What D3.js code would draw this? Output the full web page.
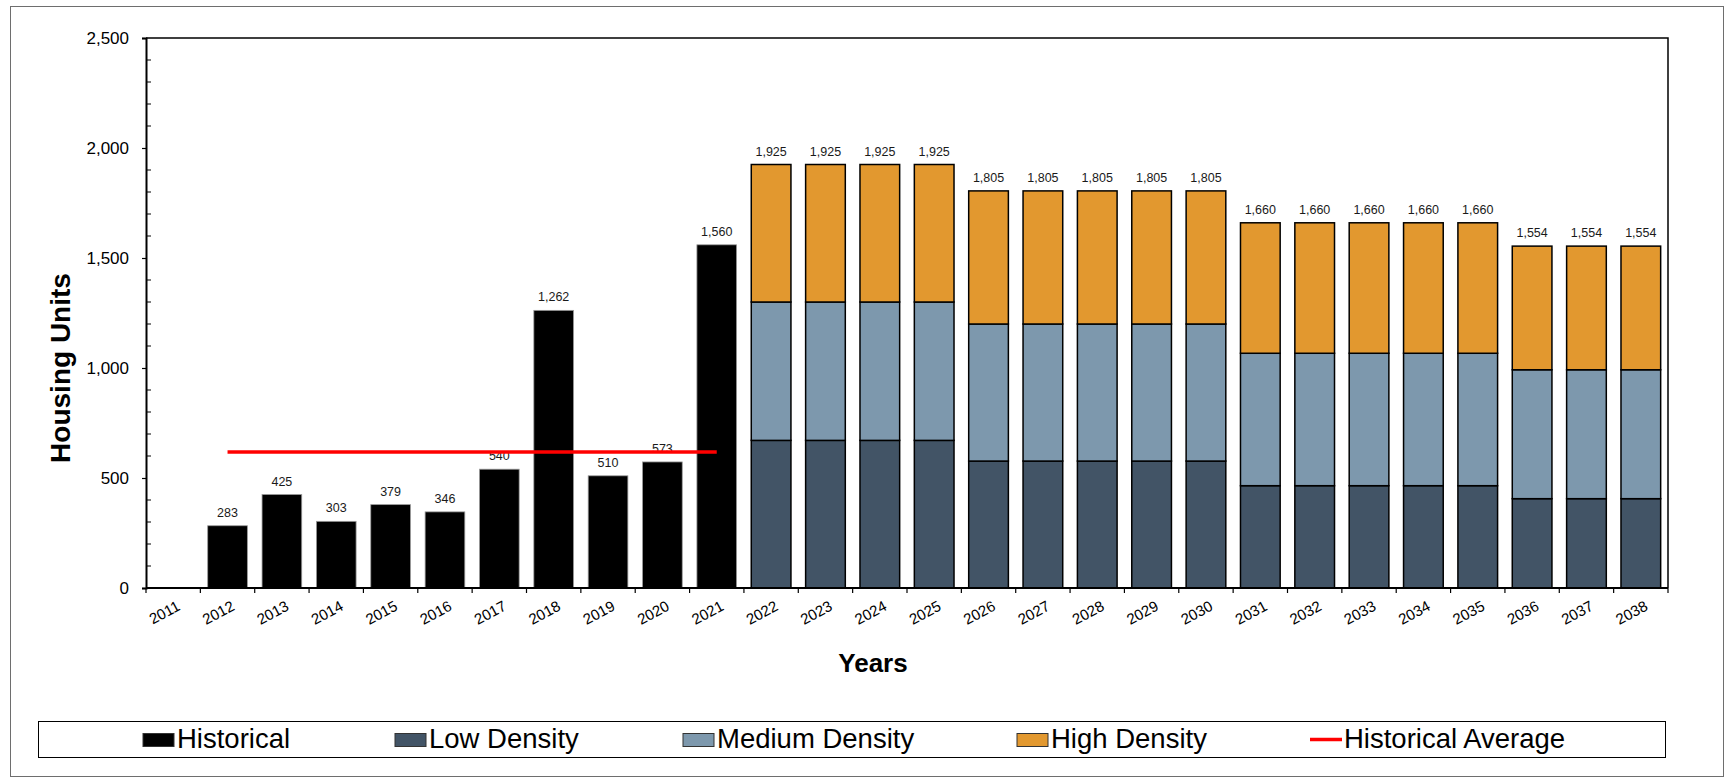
<!DOCTYPE html>
<html>
<head>
<meta charset="utf-8">
<script src="https://cdn.jsdelivr.net/npm/d3@7"></script>
<style>
  html, body { margin: 0; padding: 0; background: #fff; }
  svg { display: block; font-family: Arial, "Liberation Sans", sans-serif; }
</style>
</head>
<body>
<svg id="chart" width="1725" height="781"></svg>
<script>
// Category axis: every year shown on the chart
const years = ["2011","2012","2013","2014","2015","2016","2017","2018","2019","2020",
               "2021","2022","2023","2024","2025","2026","2027","2028","2029","2030",
               "2031","2032","2033","2034","2035","2036","2037","2038"];

// Historical completions
const historicalYears  = ["2012","2013","2014","2015","2016","2017","2018","2019","2020","2021"];
const historicalValues = [283, 425, 303, 379, 346, 540, 1262, 510, 573, 1560];

// Average of the historical period
const historicalAverage = [618];

// Projected units by density
const projectionYears = ["2022","2023","2024","2025","2026","2027","2028","2029","2030",
                         "2031","2032","2033","2034","2035","2036","2037","2038"];
const lowDensity    = [671, 671, 671, 671, 577, 577, 577, 577, 577, 465, 465, 465, 465, 465, 406, 406, 406];
const mediumDensity = [629, 629, 629, 629, 623, 623, 623, 623, 623, 602, 602, 602, 602, 602, 586, 586, 586];
const highDensity   = [625, 625, 625, 625, 605, 605, 605, 605, 605, 593, 593, 593, 593, 593, 562, 562, 562];

// Value axis
const yMajorTicks = [0, 500, 1000, 1500, 2000, 2500];
const yMinorStep = 100;

const seriesNames  = ["Low Density", "Medium Density", "High Density"];
const seriesColors = ["#425466", "#7d98ad", "#e2982f"];

const svg = d3.select("#chart");
const plot = { left: 146, right: 1668, top: 38, bottom: 588 };

const x = d3.scaleBand()
  .domain(years)
  .range([plot.left, plot.right])
  .paddingInner(0.27)
  .paddingOuter(0.135);

const y = d3.scaleLinear()
  .domain([0, 2500])
  .range([plot.bottom, plot.top]);

const fmt = d3.format(",");

// Outer frame
svg.append("rect")
  .attr("x", 10.5).attr("y", 6.5)
  .attr("width", 1713).attr("height", 770)
  .attr("fill", "none").attr("stroke", "#6e6e6e").attr("stroke-width", 1);

// Plot frame (top and right edges)
svg.append("path")
  .attr("d", `M${plot.left},${plot.top}H${plot.right}V${plot.bottom}`)
  .attr("fill", "none").attr("stroke", "#000").attr("stroke-width", 1.5);

// Historical bars
const hist = historicalYears.map((yr, i) => ({ year: yr, value: historicalValues[i] }));
svg.append("g").selectAll("rect")
  .data(hist)
  .join("rect")
  .attr("x", d => x(d.year))
  .attr("y", d => y(d.value))
  .attr("width", x.bandwidth())
  .attr("height", d => y(0) - y(d.value))
  .attr("fill", "#000")
  .attr("stroke", "#9a9a9a")
  .attr("stroke-width", 0.8);

// Projected stacked bars
const projRows = projectionYears.map((yr, i) => ({
  year: yr,
  "Low Density": lowDensity[i],
  "Medium Density": mediumDensity[i],
  "High Density": highDensity[i]
}));
const stacked = d3.stack().keys(seriesNames)(projRows);

svg.append("g").selectAll("g")
  .data(stacked)
  .join("g")
  .attr("fill", (d, i) => seriesColors[i])
  .selectAll("rect")
  .data(d => d)
  .join("rect")
  .attr("x", d => x(d.data.year))
  .attr("y", d => y(d[1]))
  .attr("width", x.bandwidth())
  .attr("height", d => y(d[0]) - y(d[1]))
  .attr("stroke", "#000")
  .attr("stroke-width", 1.5);

// Value labels
const labelData = hist.map(d => ({ year: d.year, value: d.value }))
  .concat(stacked[stacked.length - 1].map(d => ({ year: d.data.year, value: d[1] })));
svg.append("g").selectAll("text")
  .data(labelData)
  .join("text")
  .attr("x", d => x(d.year) + x.bandwidth() / 2)
  .attr("y", d => y(d.value) - 9)
  .attr("text-anchor", "middle")
  .attr("font-size", 12.5)
  .attr("fill", "#1a1a1a")
  .text(d => fmt(d.value));

// Historical average line from first to last historical year
const avgX0 = x(historicalYears[0]) + x.bandwidth() / 2;
const avgX1 = x(historicalYears[historicalYears.length - 1]) + x.bandwidth() / 2;
svg.append("line")
  .attr("x1", avgX0).attr("x2", avgX1)
  .attr("y1", y(historicalAverage[0])).attr("y2", y(historicalAverage[0]))
  .attr("stroke", "#ff0000").attr("stroke-width", 3.5);

// Y axis with major ticks outside and minor ticks inside
const yAxis = svg.append("g")
  .attr("transform", `translate(${plot.left},0)`)
  .call(d3.axisLeft(y).tickValues(yMajorTicks).tickSize(4).tickPadding(13).tickFormat(fmt));
yAxis.select(".domain").attr("stroke", "#000").attr("stroke-width", 2);
yAxis.selectAll(".tick line").attr("stroke", "#000").attr("stroke-width", 1.2);
yAxis.selectAll(".tick text").attr("font-size", 17).attr("fill", "#000")
  .attr("font-family", "Arial, 'Liberation Sans', sans-serif");

const minorTicks = d3.range(0, 2500 + 1, yMinorStep).filter(v => !yMajorTicks.includes(v));
svg.append("g").selectAll("line")
  .data(minorTicks)
  .join("line")
  .attr("x1", plot.left).attr("x2", plot.left + 5)
  .attr("y1", d => y(d)).attr("y2", d => y(d))
  .attr("stroke", "#000").attr("stroke-width", 1);

// X axis: baseline, boundary ticks and slanted year labels
svg.append("line")
  .attr("x1", plot.left).attr("x2", plot.right)
  .attr("y1", plot.bottom).attr("y2", plot.bottom)
  .attr("stroke", "#000").attr("stroke-width", 2);

const boundaries = d3.range(years.length + 1).map(i => plot.left + i * x.step());
svg.append("g").selectAll("line")
  .data(boundaries)
  .join("line")
  .attr("x1", d => d).attr("x2", d => d)
  .attr("y1", plot.bottom).attr("y2", plot.bottom + 5)
  .attr("stroke", "#000").attr("stroke-width", 1.2);

svg.append("g").selectAll("text")
  .data(years)
  .join("text")
  .attr("transform", d => `translate(${x(d) + x.bandwidth() / 2 + 3},${plot.bottom + 12}) rotate(-28)`)
  .attr("text-anchor", "end")
  .attr("dy", "0.71em")
  .attr("font-size", 15)
  .attr("fill", "#000")
  .text(d => d);

// Axis titles
svg.append("text")
  .attr("x", 873).attr("y", 672)
  .attr("text-anchor", "middle")
  .attr("font-size", 26).attr("font-weight", "bold")
  .text("Years");

svg.append("text")
  .attr("transform", `translate(70,${368}) rotate(-90)`)
  .attr("text-anchor", "middle")
  .attr("font-size", 28).attr("font-weight", "bold")
  .text("Housing Units");

// Legend
const legend = svg.append("g");
legend.append("rect")
  .attr("x", 38.5).attr("y", 721.5)
  .attr("width", 1627).attr("height", 36)
  .attr("fill", "#fff").attr("stroke", "#000").attr("stroke-width", 1);

const legendItems = [
  { label: "Historical",        kind: "box",  color: "#000",           x: 143 },
  { label: seriesNames[0],      kind: "box",  color: seriesColors[0],  x: 395 },
  { label: seriesNames[1],      kind: "box",  color: seriesColors[1],  x: 683 },
  { label: seriesNames[2],      kind: "box",  color: seriesColors[2],  x: 1017 },
  { label: "Historical Average", kind: "line", color: "#ff0000",       x: 1310 }
];

const li = legend.selectAll("g.item")
  .data(legendItems)
  .join("g")
  .attr("class", "item");

li.filter(d => d.kind === "box").append("rect")
  .attr("x", d => d.x).attr("y", 733.5)
  .attr("width", 31).attr("height", 13)
  .attr("fill", d => d.color)
  .attr("stroke", "#333").attr("stroke-width", 1);

li.filter(d => d.kind === "line").append("line")
  .attr("x1", d => d.x).attr("x2", d => d.x + 32)
  .attr("y1", 739.5).attr("y2", 739.5)
  .attr("stroke", d => d.color).attr("stroke-width", 3.5);

li.append("text")
  .attr("x", d => d.x + 34)
  .attr("y", 748)
  .attr("font-size", 27.5)
  .attr("fill", "#000")
  .text(d => d.label);
</script>
</body>
</html>
